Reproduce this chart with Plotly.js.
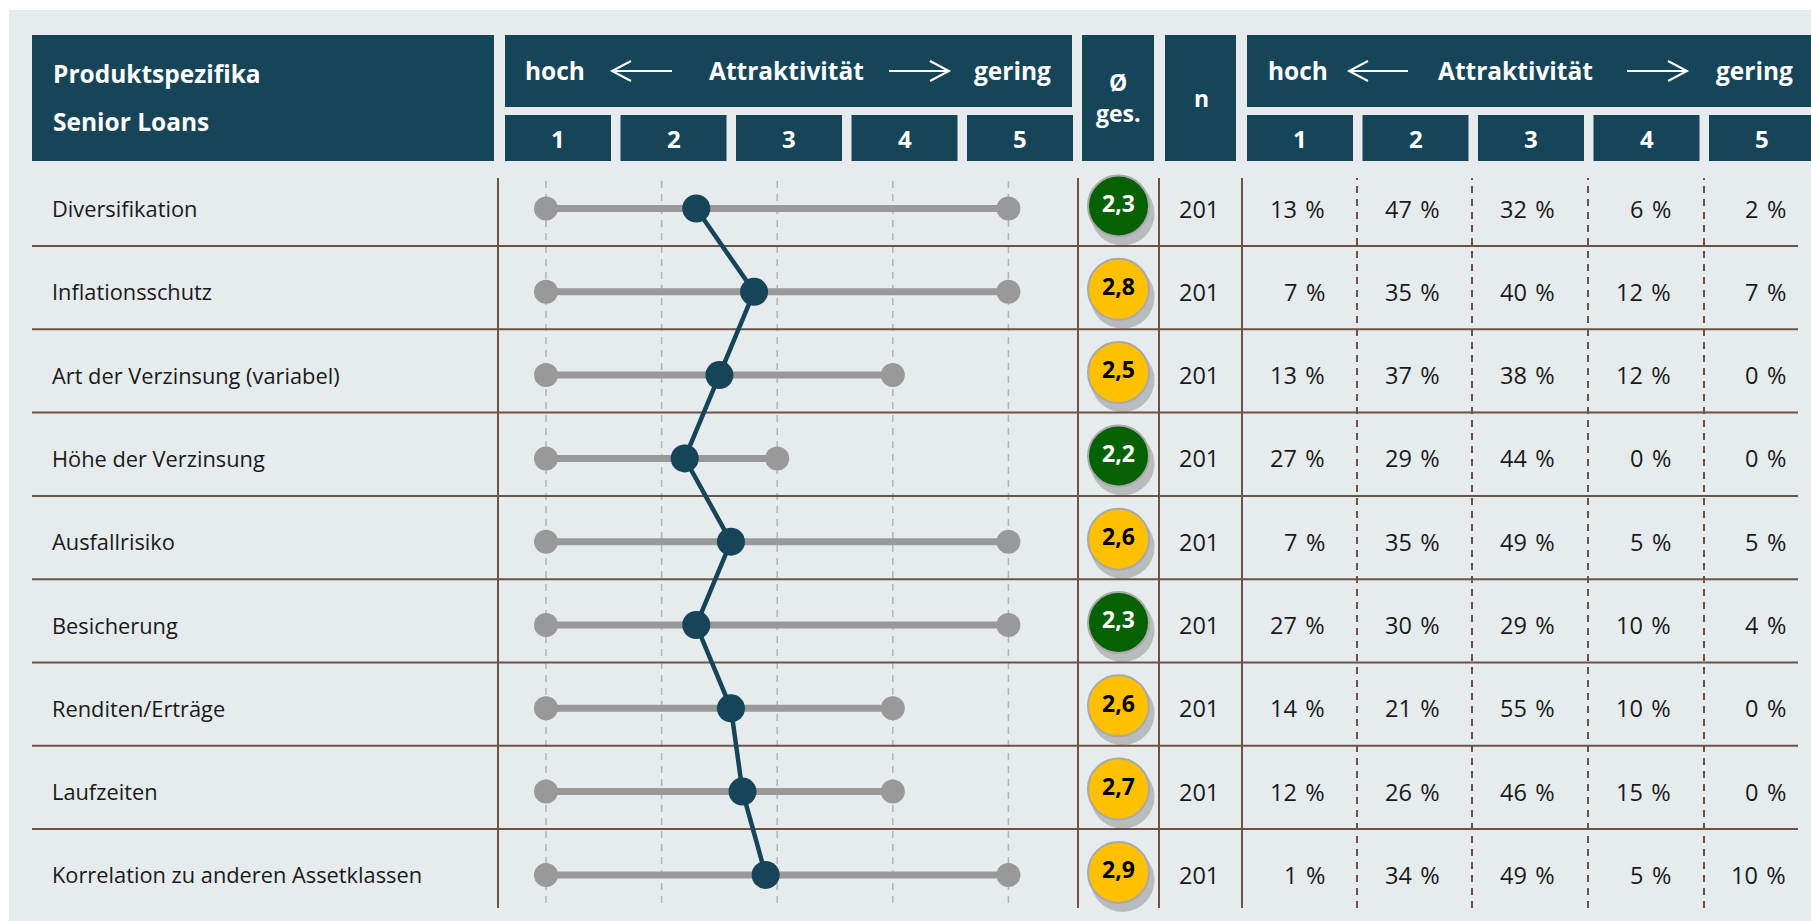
<!DOCTYPE html>
<html>
<head>
<meta charset="utf-8">
<script src="https://cdn.plot.ly/plotly-3.0.1.min.js"></script>
<style>
  html, body { margin: 0; padding: 0; background: #fff; }
  #chart { width: 1811px; height: 921px; }
</style>
</head>
<body>
<div id="chart"></div>
<script>
/* ---- Data ---- */
var labels = ['Diversifikation', 'Inflationsschutz', 'Art der Verzinsung (variabel)',
              'Höhe der Verzinsung', 'Ausfallrisiko', 'Besicherung',
              'Renditen/Erträge', 'Laufzeiten', 'Korrelation zu anderen Assetklassen'];
var minVals  = [1, 1, 1, 1, 1, 1, 1, 1, 1];
var maxVals  = [5, 5, 4, 3, 5, 5, 4, 4, 5];
var meanVals = [2.3, 2.8, 2.5, 2.2, 2.6, 2.3, 2.6, 2.7, 2.9];
var nVals    = [201, 201, 201, 201, 201, 201, 201, 201, 201];
var pct1 = [13, 7, 13, 27, 7, 27, 14, 12, 1];
var pct2 = [47, 35, 37, 29, 35, 30, 21, 26, 34];
var pct3 = [32, 40, 38, 44, 49, 29, 55, 46, 49];
var pct4 = [6, 12, 12, 0, 5, 10, 10, 15, 5];
var pct5 = [2, 7, 0, 0, 5, 4, 0, 0, 10];
var scaleTicks = ['1', '2', '3', '4', '5'];

/* ---- Layout constants (pixels) ---- */
var W = 1811, H = 921;
var ROW0 = 208.5, PITCH = 83.3;
var NAVY = '#164459', BROWN = '#6b5446', PANEL = '#e6ebee';
var FONT = 'Open Sans, Noto Sans, sans-serif';

function px(x) { return x / W; }
function py(y) { return 1 - y / H; }
function rect(x0, y0, x1, y1, color) {
  return { type: 'rect', xref: 'paper', yref: 'paper', layer: 'below',
           x0: px(x0), x1: px(x1), y0: py(y1), y1: py(y0),
           fillcolor: color, line: { width: 0 } };
}
function vline(x, y0, y1, color, width, dash) {
  return { type: 'line', xref: 'paper', yref: 'paper', layer: 'below',
           x0: px(x), x1: px(x), y0: py(y1), y1: py(y0),
           line: { color: color, width: width, dash: dash || 'solid' } };
}
function txt(x, y, text, size, opts) {
  opts = opts || {};
  return { xref: 'paper', yref: 'paper', x: px(x), y: py(y), text: text, showarrow: false,
           xanchor: opts.anchor || 'center', yanchor: 'middle',
           font: { family: FONT, size: size, color: opts.color || '#fff', weight: opts.weight || 700 } };
}
function fmt(v) { return v.toFixed(1).replace('.', ','); }

var rows = labels.map(function(_, i) { return i; });

/* ---- Traces ---- */
var rangeX = [], rangeY = [], endX = [], endY = [];
rows.forEach(function(i) {
  rangeX.push(minVals[i], maxVals[i], null);
  rangeY.push(i, i, null);
  endX.push(minVals[i], maxVals[i]);
  endY.push(i, i);
});

var traces = [
  { x: rangeX, y: rangeY, type: 'scatter', mode: 'lines', xaxis: 'x', yaxis: 'y',
    line: { color: '#999999', width: 7 }, hoverinfo: 'skip' },
  { x: endX, y: endY, type: 'scatter', mode: 'markers', xaxis: 'x', yaxis: 'y',
    marker: { color: '#999999', size: 24 }, hoverinfo: 'skip' },
  { x: meanVals, y: rows, type: 'scatter', mode: 'lines+markers', xaxis: 'x', yaxis: 'y',
    line: { color: NAVY, width: 4.5 }, marker: { color: NAVY, size: 28 } },
  // shadow of the average circles
  { x: rows.map(function() { return 0.55; }), y: rows.map(function(i) { return i + 0.06; }),
    type: 'scatter', mode: 'markers', xaxis: 'x2', yaxis: 'y',
    marker: { color: 'rgba(70,70,70,0.28)', size: 64, line: { width: 0 } }, hoverinfo: 'skip' },
  { x: rows.map(function() { return 0.5; }), y: rows.map(function(i) { return i - 0.03; }),
    type: 'scatter', mode: 'markers+text', xaxis: 'x2', yaxis: 'y',
    text: meanVals.map(fmt), textposition: 'middle center',
    textfont: { family: FONT, size: 23, weight: 700,
                color: meanVals.map(function(v) { return v < 2.45 ? '#ffffff' : '#000000'; }) },
    marker: { size: 61, color: meanVals.map(function(v) { return v < 2.45 ? '#046204' : '#ffc000'; }),
              line: { color: '#a9a9a9', width: 2 } } }
];

/* ---- Shapes ---- */
var shapes = [];
shapes.push(rect(9, 10, W, H, PANEL));

// header boxes
shapes.push(rect(32, 35, 494, 161, NAVY));
shapes.push(rect(505, 35, 1072, 107, NAVY));
shapes.push(rect(1082, 35, 1154, 161, NAVY));
shapes.push(rect(1165, 35, 1236, 161, NAVY));
shapes.push(rect(1247, 35, W, 107, NAVY));
scaleTicks.forEach(function(t, k) {
  shapes.push(rect(505 + k * 115.5, 115, 611 + k * 115.5, 161, NAVY));
  shapes.push(rect(1247 + k * 115.5, 115, 1353 + k * 115.5, 161, NAVY));
});

// arrows in the header
function arrow(x0, x1, y, dir) {
  var tip = dir < 0 ? x0 : x1;
  var back = tip - dir * 19;
  return { type: 'path', xref: 'paper', yref: 'paper',
           path: 'M' + px(x0) + ',' + py(y) + ' L' + px(x1) + ',' + py(y) +
                 ' M' + px(back) + ',' + py(y - 10) + ' L' + px(tip) + ',' + py(y) +
                 ' L' + px(back) + ',' + py(y + 10),
           line: { color: '#ffffff', width: 2 } };
}
shapes.push(arrow(612, 672, 71, -1), arrow(889, 949, 71, 1));
shapes.push(arrow(1349, 1408, 71, -1), arrow(1627, 1687, 71, 1));

// dot plot guides
[1, 2, 3, 4, 5].forEach(function(v) {
  shapes.push({ type: 'line', xref: 'x', yref: 'paper', layer: 'below', x0: v, x1: v,
                y0: py(903), y1: py(178), line: { color: '#b4b4b4', width: 1.5, dash: '7px,6px' } });
});

// table grid
rows.slice(1).forEach(function(i) {
  shapes.push({ type: 'line', xref: 'paper', yref: 'y', layer: 'below',
                x0: px(32), x1: px(1798), y0: i - 0.55, y1: i - 0.55,
                line: { color: BROWN, width: 2 } });
});
[498, 1078, 1159, 1242].forEach(function(x) { shapes.push(vline(x, 178, 908, BROWN, 2)); });
[1357, 1472, 1588, 1704].forEach(function(x) { shapes.push(vline(x, 178, 908, BROWN, 2, '7px,6px')); });

/* ---- Annotations ---- */
var ann = [];
ann.push(txt(51, 73, 'Produktspezifika', 24.5, { anchor: 'left' }));
ann.push(txt(51, 121, 'Senior Loans', 24.5, { anchor: 'left' }));
ann.push(txt(523, 70, 'hoch', 24.5, { anchor: 'left' }));
ann.push(txt(786, 70, 'Attraktivität', 24.5));
ann.push(txt(1053, 70, 'gering', 24.5, { anchor: 'right' }));
ann.push(txt(1118, 82, 'Ø', 23));
ann.push(txt(1118, 113, 'ges.', 23));
ann.push(txt(1201, 98, 'n', 23));
ann.push(txt(1266, 70, 'hoch', 24.5, { anchor: 'left' }));
ann.push(txt(1515, 70, 'Attraktivität', 24.5));
ann.push(txt(1795, 70, 'gering', 24.5, { anchor: 'right' }));
scaleTicks.forEach(function(t, k) {
  ann.push(txt(558 + k * 115.5, 138, t, 24));
  ann.push(txt(1300 + k * 115.5, 138, t, 24));
});

var pctCols = [pct1, pct2, pct3, pct4, pct5];
var pctRight = [1327, 1442, 1557, 1673, 1788];
rows.forEach(function(i) {
  ann.push({ xref: 'paper', yref: 'y', x: px(50), y: i, text: labels[i], showarrow: false,
             xanchor: 'left', yanchor: 'middle', font: { family: FONT, size: 21.8, color: '#1a1a1a' } });
  ann.push({ xref: 'paper', yref: 'y', x: px(1199), y: i, text: String(nVals[i]), showarrow: false,
             xanchor: 'center', yanchor: 'middle', font: { family: FONT, size: 23.5, color: '#1a1a1a' } });
  pctCols.forEach(function(col, c) {
    ann.push({ xref: 'paper', yref: 'y', x: px(pctRight[c]), y: i, text: col[i] + ' \u200A%', showarrow: false,
               xanchor: 'right', yanchor: 'middle', font: { family: FONT, size: 23.5, color: '#1a1a1a' } });
  });
});

/* ---- Layout ---- */
var hidden = { showgrid: false, zeroline: false, showticklabels: false, ticks: '', showline: false, fixedrange: true };
var layout = {
  width: W, height: H,
  margin: { l: 0, r: 0, t: 0, b: 0 },
  paper_bgcolor: '#ffffff', plot_bgcolor: 'rgba(0,0,0,0)',
  showlegend: false,
  xaxis: Object.assign({ domain: [px(505), px(1072)],
                         range: [1 + (505 - 546) / 115.6, 1 + (1072 - 546) / 115.6] }, hidden),
  xaxis2: Object.assign({ domain: [px(1078), px(1159)], range: [0, 1], anchor: 'y' }, hidden),
  yaxis: Object.assign({ domain: [0, 1], range: [(H - ROW0) / PITCH, -ROW0 / PITCH] }, hidden),
  shapes: shapes,
  annotations: ann
};

Plotly.newPlot('chart', traces, layout, { displayModeBar: false, staticPlot: true });
</script>
</body>
</html>
